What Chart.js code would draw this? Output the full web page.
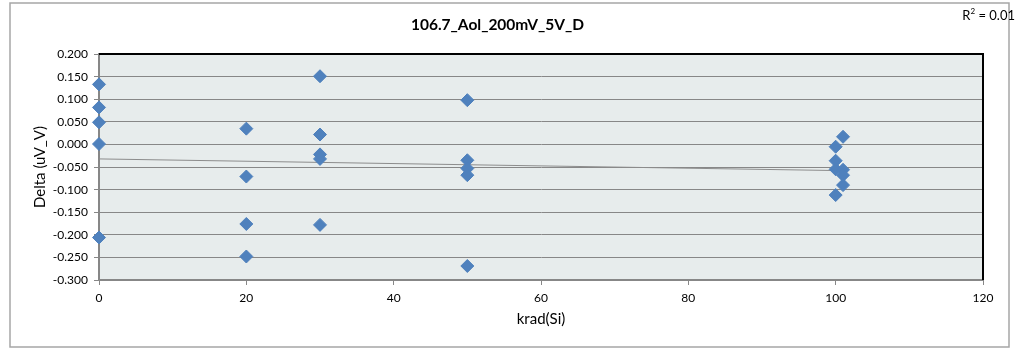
<!DOCTYPE html>
<html>
<head>
<meta charset="utf-8">
<script src="https://cdn.jsdelivr.net/npm/chart.js@4"></script>
<style>
  body { margin: 0; background: #fff; }
  canvas { display: block; }
</style>
</head>
<body>
<canvas id="grafico" width="1022" height="349"></canvas>
<script>
// datos
const dosis = [0, 0, 0, 0, 0, 20, 20, 20, 20, 30, 30, 30, 30, 30, 50, 50, 50, 50, 50, 100, 100, 100, 100, 101, 101, 101, 101];
const delta = [0.133, 0.082, 0.049, 0.001, -0.206, 0.035, -0.071, -0.176, -0.248, 0.151, 0.022, -0.022, -0.032, -0.178, 0.098, -0.035, -0.053, -0.068, -0.269, -0.005, -0.036, -0.055, -0.112, 0.017, -0.056, -0.068, -0.090];
const tendX = [0, 101];
const tendY = [-0.032, -0.058];
const titulo = "106.7_Aol_200mV_5V_D";
const r2Texto = "0.01";

const fuente = "Lato, 'Open Sans', sans-serif";
const gris = "#878787";

const puntos = dosis.map((x, i) => ({ x: x, y: delta[i] }));
const tendencia = tendX.map((x, i) => ({ x: x, y: tendY[i] }));

const fondoPlugin = {
    id: "fondo",
    beforeDraw(chart) {
        const { ctx, chartArea: a } = chart;
        ctx.save();
        ctx.fillStyle = "#fff";
        ctx.fillRect(0, 0, chart.width, chart.height);
        ctx.strokeStyle = "#a6a6a6";
        ctx.lineWidth = 1.5;
        ctx.strokeRect(10, 3, 999, 344);
        ctx.fillStyle = "#e7ecec";
        ctx.fillRect(a.left, a.top, a.right - a.left, a.bottom - a.top);
        ctx.restore();
    },
    afterDatasetsDraw(chart) {
        const { ctx, chartArea: a } = chart;
        ctx.save();
        // borde negro arriba y derecha
        ctx.strokeStyle = "#000";
        ctx.lineWidth = 2;
        ctx.beginPath();
        ctx.moveTo(a.left, a.top);
        ctx.lineTo(a.right, a.top);
        ctx.lineTo(a.right, a.bottom);
        ctx.stroke();
        ctx.restore();
    },
    afterDraw(chart) {
        const ctx = chart.ctx;
        ctx.save();
        // R^2
        ctx.fillStyle = "#000";
        ctx.textBaseline = "alphabetic";
        ctx.font = "13px " + fuente;
        const resto = " = " + r2Texto;
        const wR = ctx.measureText("R").width;
        const wResto = ctx.measureText(resto).width;
        ctx.font = "8px " + fuente;
        const w2 = ctx.measureText("2").width;
        let x = 1015 - (wR + w2 + wResto);
        ctx.font = "13px " + fuente;
        ctx.fillText("R", x, 20);
        x += wR;
        ctx.font = "8px " + fuente;
        ctx.fillText("2", x, 14);
        x += w2;
        ctx.font = "13px " + fuente;
        ctx.fillText(resto, x, 20);
        ctx.restore();
    }
};

const grafico = new Chart(document.getElementById("grafico").getContext("2d"), {
    type: "scatter",
    data: {
        datasets: [
            {
                label: "Delta",
                data: puntos,
                pointStyle: "rectRot",
                pointRadius: 6.5,
                pointHoverRadius: 6.5,
                backgroundColor: "#4f81bd",
                borderColor: "#4f81bd",
                borderWidth: 1,
                clip: false,
                order: 1
            },
            {
                label: "Tendencia",
                type: "line",
                data: tendencia,
                showLine: true,
                pointRadius: 0,
                borderColor: "#8c8c8c",
                borderWidth: 1,
                fill: false,
                order: 2
            }
        ]
    },
    options: {
        responsive: false,
        animation: false,
        devicePixelRatio: 1,
        layout: { padding: { left: 12, right: 39, top: 0, bottom: 0 } },
        plugins: {
            legend: { display: false },
            tooltip: { enabled: false },
            title: {
                display: true,
                text: titulo,
                color: "#000",
                font: { family: fuente, size: 15.5, weight: "bold", lineHeight: 1.2 },
                padding: { top: 15.5, bottom: 20 }
            }
        },
        scales: {
            x: {
                type: "linear",
                min: 0,
                max: 120,
                ticks: { stepSize: 20, color: "#000", padding: 6, font: { family: fuente, size: 12 } },
                grid: { drawOnChartArea: false, drawTicks: true, tickLength: 5, color: gris },
                border: { color: gris, width: 2 },
                title: {
                    display: true,
                    text: "krad(Si)",
                    color: "#000",
                    font: { family: fuente, size: 15, lineHeight: 1.2 },
                    padding: { top: 4, bottom: 21 }
                },
                afterFit(scale) { scale.height = 69; }
            },
            y: {
                min: -0.3,
                max: 0.2,
                ticks: {
                    stepSize: 0.05,
                    color: "#000",
                    padding: 6,
                    font: { family: fuente, size: 12 },
                    callback: v => v.toFixed(3)
                },
                grid: { color: gris, lineWidth: 1, tickLength: 5 },
                border: { color: gris, width: 2 },
                title: {
                    display: true,
                    text: "Delta (uV_V)",
                    color: "#000",
                    font: { family: fuente, size: 15, lineHeight: 1.2 },
                    padding: { top: 19, bottom: 4 }
                },
                afterFit(scale) { scale.width = 87; }
            }
        }
    },
    plugins: [fondoPlugin]
});
</script>
</body>
</html>
